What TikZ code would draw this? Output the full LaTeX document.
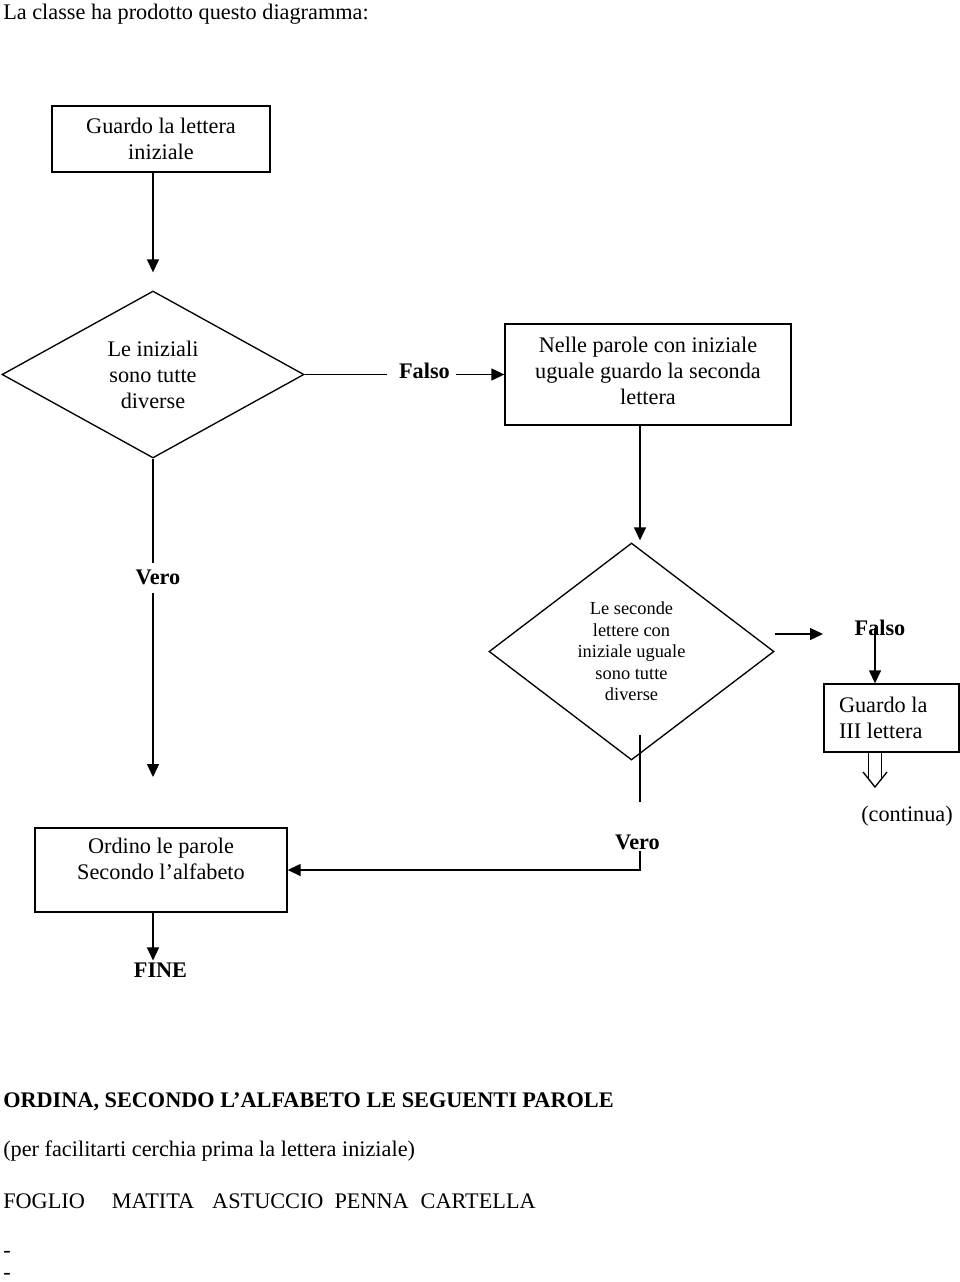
\documentclass[tikz,border=0pt]{standalone}
\usepackage{fontspec}
\setmainfont{Liberation Serif}
\usetikzlibrary{shapes.geometric,arrows.meta,calc}
\begin{document}
\begin{tikzpicture}[x=0.75pt,y=-0.75pt,
  body/.style={font=\fontsize{16.7pt}{19.5pt}\selectfont},
  box/.style={draw,line width=1pt,inner sep=0pt,align=center,body},
  dec/.style={draw,diamond,line width=1pt,inner sep=0pt,align=center},
  lbl/.style={inner sep=0pt,font=\fontsize{16.7pt}{19.5pt}\selectfont\bfseries},
  txt/.style={inner sep=0pt,anchor=base west,body},
  arr/.style={line width=1pt,-{Triangle[length=9.75pt,width=9pt]}},
  ln/.style={line width=1pt}]
\useasboundingbox (0,0) rectangle (960,1282);

% title
\node[txt] (title) at (3,19) {La classe ha prodotto questo diagramma:};

% boxes and decisions
\node[box,minimum width=163.5pt,minimum height=49.5pt] (b1) at (161,139) {Guardo la lettera\\iniziale};
\node[dec,body,minimum width=226.5pt,minimum height=125.25pt,aspect=1.81] (d1) at (153,374.5) {Le iniziali\\sono tutte\\diverse};
\node[box,minimum width=214.5pt,minimum height=75.75pt,text depth=5pt] (b2) at (648,374.5) {Nelle parole con iniziale\\uguale guardo la seconda\\lettera};
\node[dec,minimum width=213.75pt,minimum height=162.75pt,aspect=1.31,font=\fontsize{13.8pt}{16.1pt}\selectfont] (d2) at (631.5,651.5) {Le seconde\\lettere con\\iniziale uguale\\sono tutte\\diverse};
\node[box,align=flush left,text width=78.75pt,inner xsep=11.25pt,minimum height=51pt] (b4) at (891.5,718) {Guardo la\\III lettera};
\node[box,minimum width=189pt,minimum height=63pt,text depth=17pt] (b3) at (161,870) {Ordino le parole\\Secondo l’alfabeto};

% labels
\node[lbl] (falso1) at (424.5,371) {Falso};
\node[lbl] (vero1) at (158,577) {Vero};
\node[lbl] (falso2) at (880,628) {Falso};
\node[lbl] (vero2) at (637.5,842) {Vero};
\node[lbl] (fine) at (160.5,970) {FINE};
\node[inner sep=0pt,body] (cont) at (907,816) {(continua)};

% helper coordinates
\coordinate (t1) at (153,777);
\coordinate (f2in) at (823,634);
\coordinate (cx) at (875,0);
\coordinate (sl) at (868.5,0);
\coordinate (sr) at (881.5,0);
\coordinate (hl) at (863,772);
\coordinate (dtip) at (875,787);
\coordinate (hr) at (887,772);
\coordinate (vx) at (640,0);
\coordinate (v2a) at (640,735);
\coordinate (v2b) at (640,802);

% connectors
\draw[arr] (b1.south -| d1.north) -- ($(d1.north)+(0,-18)$);
\draw[ln] (d1.east) -- ([xshift=-9pt]falso1.west |- d1.east);
\draw[arr] ([xshift=4.5pt]falso1.east |- b2.west) -- (b2.west);
\draw[ln] (d1.south) -- ([yshift=4.5pt]vero1.north -| d1.south);
\draw[arr] ([yshift=-6pt]vero1.south -| d1.south) -- (t1);
\draw[arr] ($(b2.south)+(-8,0)$) -- ($(d2.north)+(8.5,-2)$);
\draw[arr] (d2.east |- f2in) -- (f2in);
\draw[arr] (falso2.center -| cx) -- (b4.north -| cx);
% double (implies) arrow from b4 towards (continua)
\draw[ln] (b4.south -| sl) -- ($(b4.south -| sl)+(0,27.5)$);
\draw[ln] (b4.south -| sr) -- ($(b4.south -| sr)+(0,27.5)$);
\draw[ln,line join=miter] (hl) -- (dtip) -- (hr);
\draw[ln] (v2a) -- (v2b);
\draw[arr] ([yshift=-1pt]vero2.south -| vx) -- (b3.east -| vx) -- (b3.east);
\draw[arr] (b3.south -| d1.south) -- ([yshift=1.5pt]fine.north -| d1.south);

% bottom text
\node[txt,font=\fontsize{16.7pt}{19.5pt}\selectfont\bfseries] (q) at (3,1107) {ORDINA, SECONDO L’ALFABETO LE SEGUENTI PAROLE};
\node[txt] (hint) at (3,1156) {(per facilitarti cerchia prima la lettera iniziale)};
\node[txt] (words) at (3,1208) {FOGLIO\hspace*{20.25pt}MATITA\hspace*{13.5pt}ASTUCCIO\hspace*{8.25pt}PENNA\hspace*{9pt}CARTELLA};
\node[txt] (dash1) at (3,1257) {-};
\node[txt] (dash2) at (3,1279) {-};
\end{tikzpicture}
\end{document}
